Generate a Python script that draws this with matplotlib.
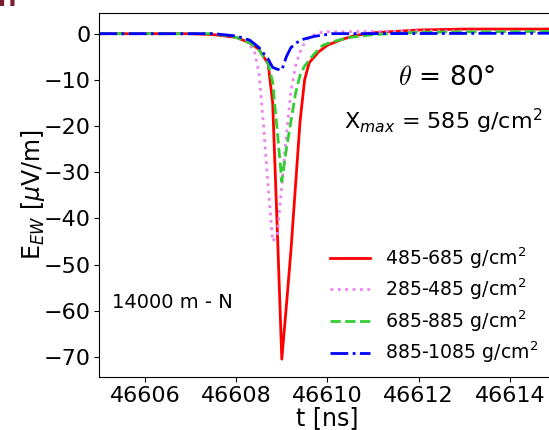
import numpy as np
import matplotlib
matplotlib.use("Agg")
import matplotlib.pyplot as plt

# ---- data ----
t_red = [46605.0, 46607.0, 46607.5, 46608.0, 46608.3, 46608.5, 46608.7, 46608.8, 46608.9,
         46609.0, 46609.1, 46609.2, 46609.3, 46609.4, 46609.5, 46609.6, 46609.8, 46610.0,
         46610.3, 46610.6, 46611.0, 46612.0, 46613.0, 46614.0, 46615.0]
v_red = [0.0, 0.0, -0.2, -0.8, -2.0, -3.4, -6.5, -15.0, -42.0,
         -70.5, -59.0, -47.0, -33.0, -19.0, -10.0, -6.3, -4.0, -2.5,
         -1.3, -0.4, 0.2, 0.8, 1.0, 1.0, 1.0]

t_pink = [46605.0, 46607.5, 46608.0, 46608.2, 46608.4, 46608.5, 46608.6, 46608.7, 46608.8,
          46608.9, 46609.0, 46609.1, 46609.2, 46609.3, 46609.4, 46609.5, 46609.6, 46609.8,
          46610.0, 46611.0, 46612.0, 46615.0]
v_pink = [0.0, 0.0, -0.5, -1.3, -3.8, -8.5, -20.0, -33.0, -45.0,
          -43.5, -33.0, -22.0, -12.5, -7.0, -4.0, -2.0, -0.8, 0.2,
          0.4, 0.5, 0.6, 0.5]

t_green = [46605.0, 46607.5, 46608.0, 46608.3, 46608.5, 46608.7, 46608.8, 46608.9, 46609.0,
           46609.1, 46609.2, 46609.3, 46609.4, 46609.5, 46609.7, 46609.9, 46610.2, 46610.5,
           46611.0, 46612.0, 46615.0]
v_green = [0.0, 0.0, -0.8, -2.0, -3.5, -6.5, -10.5, -21.0, -32.0,
           -25.0, -19.0, -13.0, -9.0, -7.0, -4.5, -2.5, -1.5, -0.8,
           -0.2, 0.3, 0.5]

t_blue = [46605.0, 46607.5, 46608.0, 46608.3, 46608.5, 46608.7, 46608.8, 46608.9, 46609.0,
          46609.1, 46609.2, 46609.4, 46609.7, 46610.1, 46615.0]
v_blue = [0.0, 0.0, -0.5, -1.4, -3.0, -5.5, -7.3, -7.7, -7.9,
          -5.0, -3.0, -1.4, -0.6, 0.0, 0.1]

labels = ["485-685 g/cm$^2$", "285-485 g/cm$^2$", "685-885 g/cm$^2$", "885-1085 g/cm$^2$"]
xticks = [46606, 46608, 46610, 46612, 46614]
yticks = [0, -10, -20, -30, -40, -50, -60, -70]

# ---- figure ----
fig = plt.figure(figsize=(5.49, 4.30), dpi=100)
ax = fig.add_axes([0.1809, 0.124, 0.831, 0.8465])

ax.plot(t_red, v_red, color="red", lw=2.0, ls="-", label=labels[0])
ax.plot(t_pink, v_pink, color="violet", lw=2.0, ls=":", label=labels[1])
ax.plot(t_green, v_green, color="limegreen", lw=2.0, ls="--", label=labels[2])
ax.plot(t_blue, v_blue, color="blue", lw=2.0, ls="-.", label=labels[3])

ax.set_xlim(46605, 46615)
ax.set_ylim(-74.3, 4.55)
ax.set_xticks(xticks)
ax.set_xticklabels([str(x) for x in xticks])
ax.set_yticks(yticks)
ax.set_yticklabels(["\u2212%d" % -y if y < 0 else "%d" % y for y in yticks])
ax.tick_params(labelsize=16, pad=3)

ax.set_xlabel("t [ns]", fontsize=17, labelpad=0)
ax.set_ylabel("E$_{EW}$ [$\\mu$V/m]", fontsize=17, labelpad=-3)

ax.text(0.761, 0.82, "$\\theta$ = 80°", transform=ax.transAxes, fontsize=19,
        ha="center", va="center", math_fontfamily="cm")
ax.text(0.972, 0.70, "X$_{max}$ = 585 g/cm$^2$", transform=ax.transAxes, fontsize=16,
        ha="right", va="center")
ax.text(0.027, 0.2025, "14000 m - N", transform=ax.transAxes, fontsize=14,
        ha="left", va="center")

leg = ax.legend(loc="lower right", bbox_to_anchor=(1.0, -0.015), frameon=False,
                fontsize=13.6, handlelength=2.1, labelspacing=0.32, handletextpad=0.8)

fig.text(-0.004, 0.986, "H", fontsize=16, fontweight="bold", color="#7b1c2c",
         ha="left", va="baseline")

fig.savefig("out.png", dpi=100)
